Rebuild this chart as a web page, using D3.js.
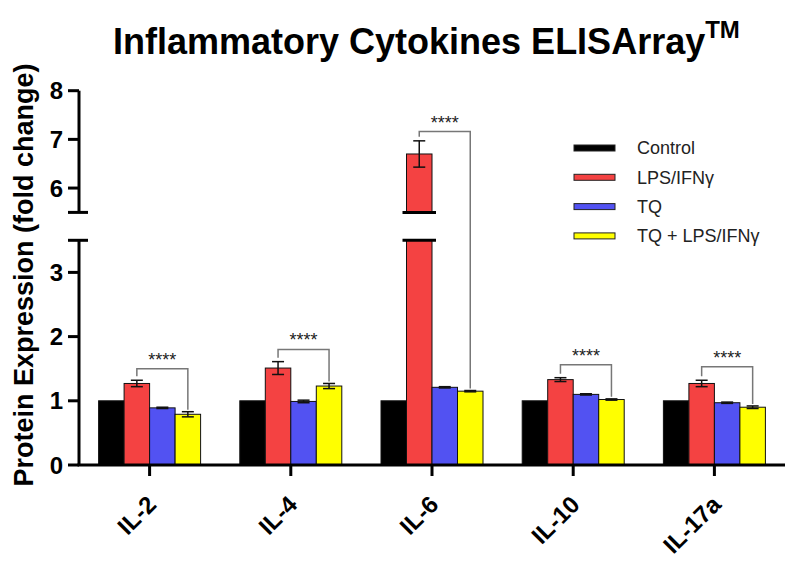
<html>
    <head><meta charset="utf-8"></head>
    <script src="https://cdnjs.cloudflare.com/ajax/libs/d3/7.8.5/d3.min.js"></script>

    <body style="margin:0; background:white;">
        <div id="graph"></div>
    </body>

    <script>
        // values
        var cytokines = ["IL-2", "IL-4", "IL-6", "IL-10", "IL-17a"];
        var groups = ["Control", "LPS/IFNγ", "TQ", "TQ + LPS/IFNγ"];
        var colors = ["#000000", "#f44242", "#5252f2", "#ffff00"];
        var control = [1, 1, 1, 1, 1];
        var lps = [1.27, 1.51, 6.70, 1.33, 1.27];
        var lpsErr = [0.05, 0.10, 0.27, 0.03, 0.05];
        var tq = [0.89, 0.99, 1.21, 1.10, 0.97];
        var tqErr = [0.01, 0.02, 0.01, 0.01, 0.01];
        var tqLps = [0.79, 1.23, 1.15, 1.02, 0.90];
        var tqLpsErr = [0.04, 0.04, 0.01, 0.01, 0.02];
        var sigLabels = ["****", "****", "****", "****", "****"];
        var sigHeights = [1.50, 1.80, 7.16, 1.56, 1.53];
        var lowerTicks = [0, 1, 2, 3];
        var upperTicks = [6, 7, 8];
        var breakLow = 3.5, breakHigh = 5.5;

        var W = 800, H = 568;
        var svg = d3.select("#graph").append("svg")
            .attr("width", W)
            .attr("height", H)
            .style("font-family", "'Liberation Sans', Arial, sans-serif");

        var axisX = 79;
        var yLow = d3.scaleLinear().domain([0, breakLow]).range([465, 240.3]);
        var yHigh = d3.scaleLinear().domain([breakHigh, 8]).range([212.4, 90.7]);
        function Y(v) { return v <= breakLow ? yLow(v) : yHigh(v); }

        var X = d3.scaleBand().domain(cytokines).range([axisX, 785]);
        var X1 = d3.scaleBand().domain(d3.range(4)).range([-51, 51]);

        var series = [control, lps, tq, tqLps];
        var errs = [null, lpsErr, tqErr, tqLpsErr];

        // flat list of bars
        var bars = [];
        cytokines.forEach((c, i) => {
            series.forEach((s, j) => {
                bars.push({cat: c, i: i, g: j, v: s[i], e: errs[j] ? errs[j][i] : 0});
            });
        });
        function bx(d) { return X(d.cat) + X.bandwidth() / 2 + X1(d.g); }

        // bars, split at the axis break when needed
        bars.forEach((d) => {
            var x0 = bx(d), w = X1.bandwidth();
            if (d.v <= breakLow) {
                svg.append("rect").attr("x", x0).attr("y", Y(d.v)).attr("width", w).attr("height", Y(0) - Y(d.v))
                    .style("fill", colors[d.g]).style("stroke", "#111").style("stroke-width", 1);
            } else {
                svg.append("rect").attr("x", x0).attr("y", yLow(breakLow)).attr("width", w).attr("height", Y(0) - yLow(breakLow))
                    .style("fill", colors[d.g]).style("stroke", "#111").style("stroke-width", 1);
                svg.append("rect").attr("x", x0).attr("y", yHigh(d.v)).attr("width", w).attr("height", yHigh(breakHigh) - yHigh(d.v))
                    .style("fill", colors[d.g]).style("stroke", "#111").style("stroke-width", 1);
                [yLow(breakLow), yHigh(breakHigh)].forEach((yy) => {
                    svg.append("line").attr("x1", x0 - 4).attr("x2", x0 + w + 4).attr("y1", yy).attr("y2", yy)
                        .style("stroke", "black").style("stroke-width", 3);
                });
            }
        });

        // error bars
        bars.filter((d) => d.e > 0).forEach((d) => {
            var cx = bx(d) + X1.bandwidth() / 2;
            var g = svg.append("g").style("stroke", "#111").style("stroke-width", 1.5);
            g.append("line").attr("x1", cx).attr("x2", cx).attr("y1", Y(d.v + d.e)).attr("y2", Y(d.v - d.e));
            [d.v + d.e, d.v - d.e].forEach((v) => {
                g.append("line").attr("x1", cx - 6).attr("x2", cx + 6).attr("y1", Y(v)).attr("y2", Y(v));
            });
        });

        // significance brackets red vs yellow
        cytokines.forEach((c, i) => {
            var xa = X(c) + X.bandwidth() / 2 + X1(1) + X1.bandwidth() / 2;
            var xb = X(c) + X.bandwidth() / 2 + X1(3) + X1.bandwidth() / 2;
            var yt = Y(sigHeights[i]);
            var ya = Y(lps[i] + lpsErr[i]) - 4;
            var yb = Y(tqLps[i] + tqLpsErr[i]) - 2;
            svg.append("path")
                .attr("d", "M" + xa + "," + ya + "V" + yt + "H" + xb + "V" + yb)
                .style("fill", "none").style("stroke", "#777").style("stroke-width", 1.5);
            svg.append("text").attr("x", (xa + xb) / 2).attr("y", yt - 3)
                .attr("text-anchor", "middle").style("font-size", "18px").style("fill", "#222")
                .text(sigLabels[i]);
        });

        // y axis: two segments
        var ax = svg.append("g").style("stroke", "black").style("stroke-width", 3);
        ax.append("line").attr("x1", axisX).attr("x2", axisX).attr("y1", Y(0)).attr("y2", yLow(breakLow));
        ax.append("line").attr("x1", axisX).attr("x2", axisX).attr("y1", yHigh(breakHigh)).attr("y2", yHigh(8));
        [yLow(breakLow), yHigh(breakHigh)].forEach((yy) => {
            ax.append("line").attr("x1", axisX - 11).attr("x2", axisX + 9).attr("y1", yy).attr("y2", yy);
        });
        var yt = lowerTicks.map((v) => ({v: v, y: yLow(v)})).concat(upperTicks.map((v) => ({v: v, y: yHigh(v)})));
        yt.forEach((t) => {
            ax.append("line").attr("x1", axisX - 11).attr("x2", axisX).attr("y1", t.y).attr("y2", t.y);
            svg.append("text").attr("x", 63).attr("y", t.y).attr("dy", "0.36em")
                .attr("text-anchor", "end").style("font-size", "24px").style("font-weight", "bold")
                .text(t.v);
        });

        // x axis
        ax.append("line").attr("x1", axisX - 1.5).attr("x2", 785).attr("y1", Y(0)).attr("y2", Y(0));
        cytokines.forEach((c) => {
            var cx = X(c) + X.bandwidth() / 2;
            ax.append("line").attr("x1", cx).attr("x2", cx).attr("y1", Y(0)).attr("y2", Y(0) + 11);
            svg.append("text")
                .attr("transform", "translate(" + (cx + 8) + "," + 506 + ") rotate(-45)")
                .attr("text-anchor", "end").style("font-size", "24px").style("font-weight", "bold")
                .text(c);
        });

        // axis title
        svg.append("text")
            .attr("transform", "translate(33,275) rotate(-90)")
            .attr("text-anchor", "middle").style("font-size", "27px").style("font-weight", "bold")
            .text("Protein Expression (fold change)");

        // chart title
        var title = svg.append("text").attr("x", 113).attr("y", 54)
            .style("font-size", "36px").style("font-weight", "bold");
        title.append("tspan").text("Inflammatory Cytokines ELISArray");
        title.append("tspan").attr("dy", -16).style("font-size", "24px").text("TM");

        // legend
        groups.forEach((g, j) => {
            var ly = 148 + j * 29.3;
            svg.append("rect").attr("x", 574).attr("y", ly - 3).attr("width", 41).attr("height", 6)
                .style("fill", colors[j]).style("stroke", "#222").style("stroke-width", 1);
            svg.append("text").attr("x", 637).attr("y", ly).attr("dy", "0.35em")
                .style("font-size", "18px").style("fill", "#222").text(g);
        });
    </script>
</html>
